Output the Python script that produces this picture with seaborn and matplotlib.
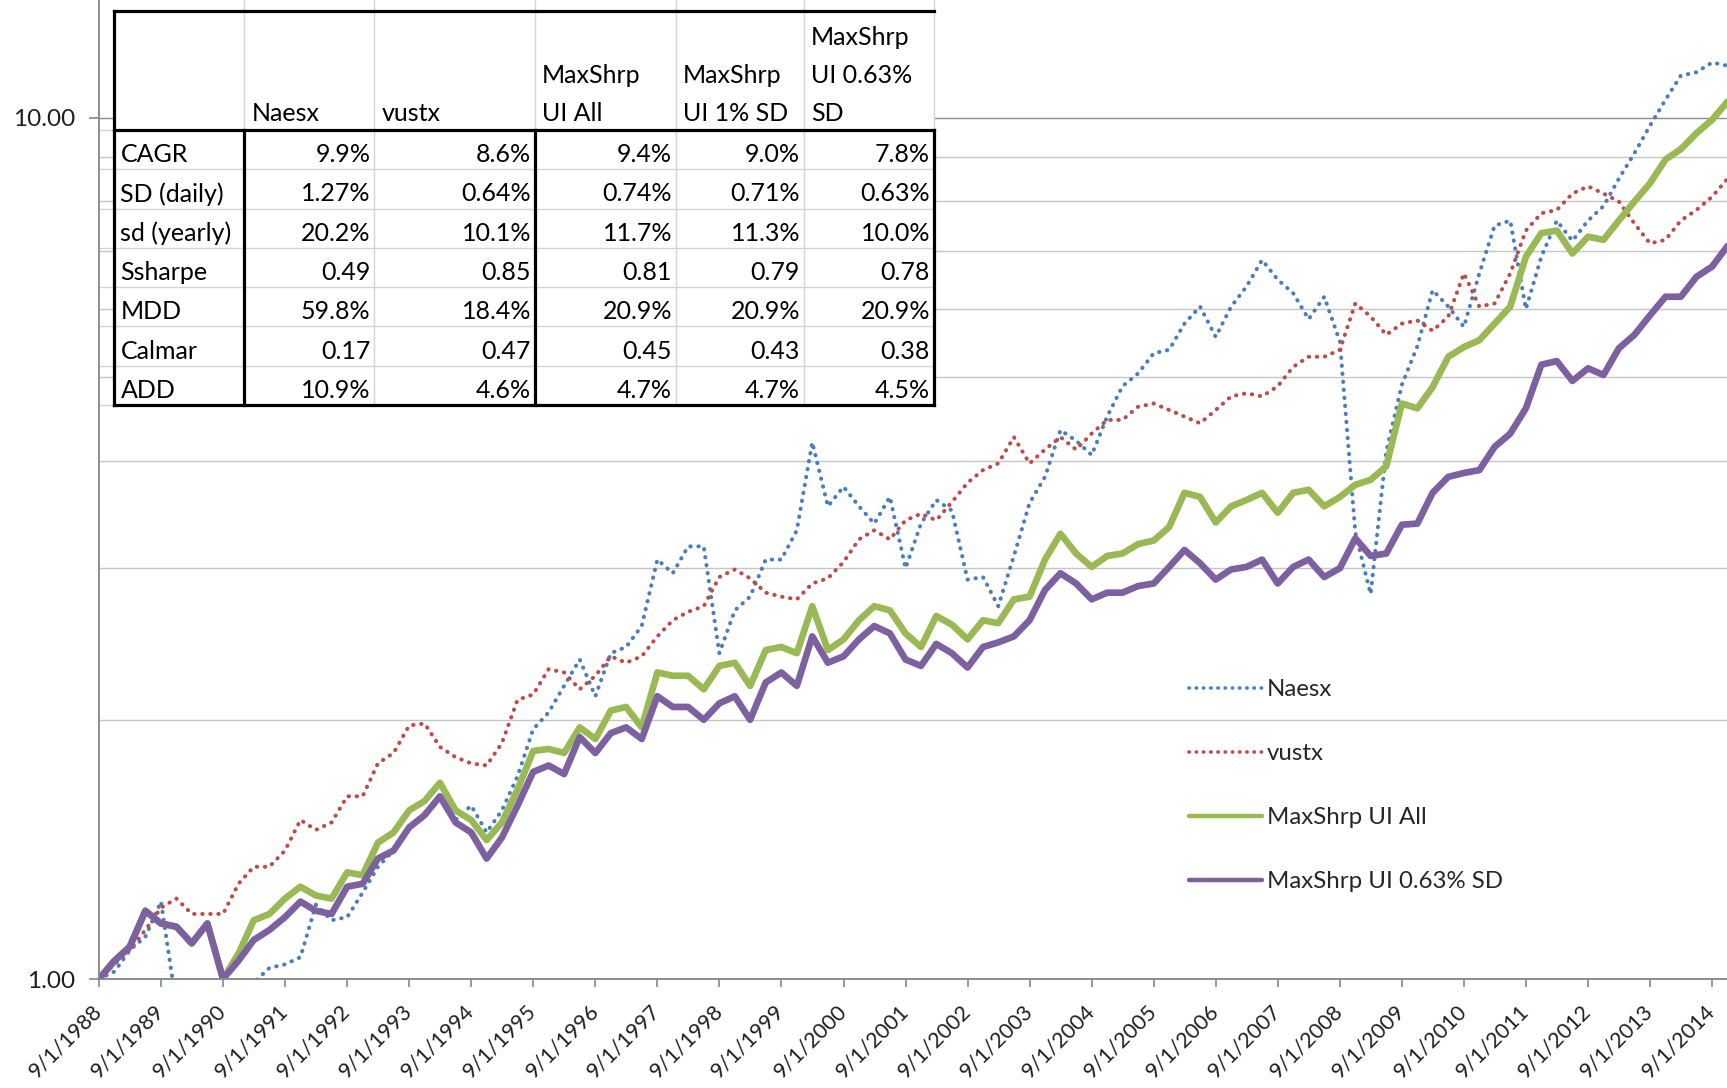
import numpy as np
import pandas as pd
import matplotlib.pyplot as plt
import matplotlib.transforms as mtransforms
import seaborn as sns
from matplotlib.lines import Line2D
from matplotlib.patches import Rectangle
from matplotlib.ticker import LogLocator, NullFormatter

W, H = 1727, 1088

# quarterly readings, starting 9/1/1988
dates = pd.date_range("1988-09-01", "2014-12-01", freq="3MS")

naesx = [1.00, 1.02, 1.08, 1.12, 1.23, 0.93, 0.92, 0.94, 0.80, 0.85,
         0.99, 1.03, 1.04, 1.06, 1.22, 1.17, 1.18, 1.26, 1.35, 1.41,
         1.50, 1.56, 1.62, 1.53, 1.59, 1.48, 1.57, 1.72, 1.95, 2.04,
         2.19, 2.35, 2.13, 2.39, 2.43, 2.57, 3.07, 2.96, 3.18, 3.18,
         2.39, 2.68, 2.78, 3.07, 3.07, 3.32, 4.20, 3.54, 3.73, 3.54,
         3.38, 3.63, 3.00, 3.38, 3.60, 3.50, 2.91, 2.93, 2.71, 3.10,
         3.57, 3.83, 4.34, 4.22, 4.06, 4.50, 4.88, 5.05, 5.33, 5.38,
         5.77, 6.04, 5.57, 6.04, 6.37, 6.84, 6.49, 6.26, 5.84, 6.20,
         5.50, 3.30, 2.80, 4.10, 4.90, 5.43, 6.31, 6.04, 5.72, 6.60,
         7.50, 7.60, 6.00, 6.90, 7.60, 7.20, 7.60, 7.90, 8.50, 9.10,
         9.80, 10.5, 11.2, 11.3, 11.6, 11.5]

vustx = [1.00, 1.04, 1.08, 1.14, 1.21, 1.24, 1.19, 1.19, 1.19, 1.29,
         1.35, 1.35, 1.41, 1.53, 1.49, 1.52, 1.63, 1.63, 1.78, 1.83,
         1.97, 1.98, 1.86, 1.81, 1.78, 1.77, 1.88, 2.11, 2.14, 2.29,
         2.27, 2.17, 2.25, 2.37, 2.33, 2.37, 2.50, 2.61, 2.67, 2.71,
         2.93, 2.99, 2.92, 2.81, 2.78, 2.76, 2.88, 2.92, 3.05, 3.24,
         3.32, 3.24, 3.41, 3.47, 3.41, 3.58, 3.77, 3.90, 3.97, 4.26,
         3.97, 4.12, 4.26, 4.12, 4.30, 4.46, 4.46, 4.62, 4.66, 4.58,
         4.50, 4.42, 4.58, 4.75, 4.79, 4.75, 4.88, 5.14, 5.28, 5.28,
         5.38, 6.09, 5.88, 5.60, 5.77, 5.82, 5.66, 5.88, 6.60, 6.04,
         6.09, 6.60, 7.40, 7.75, 7.82, 8.17, 8.33, 8.17, 8.00, 7.54,
         7.15, 7.22, 7.60, 7.82, 8.10, 8.50]

ui_all = [1.00, 1.05, 1.09, 1.20, 1.16, 1.15, 1.10, 1.16, 1.00, 1.07,
          1.17, 1.19, 1.24, 1.28, 1.25, 1.24, 1.33, 1.32, 1.44, 1.48,
          1.57, 1.61, 1.69, 1.57, 1.53, 1.45, 1.52, 1.66, 1.84, 1.85,
          1.83, 1.96, 1.90, 2.05, 2.07, 1.96, 2.27, 2.25, 2.25, 2.17,
          2.31, 2.33, 2.19, 2.41, 2.43, 2.39, 2.71, 2.41, 2.48, 2.61,
          2.71, 2.68, 2.52, 2.43, 2.64, 2.58, 2.48, 2.61, 2.59, 2.76,
          2.78, 3.07, 3.29, 3.12, 3.01, 3.10, 3.12, 3.20, 3.23, 3.35,
          3.67, 3.63, 3.39, 3.54, 3.60, 3.67, 3.48, 3.67, 3.70, 3.54,
          3.63, 3.75, 3.80, 3.94, 4.66, 4.60, 4.87, 5.28, 5.42, 5.52,
          5.77, 6.04, 6.90, 7.35, 7.40, 6.96, 7.28, 7.22, 7.60, 8.00,
          8.40, 8.95, 9.20, 9.60, 9.95, 10.45]

ui_063 = [1.00, 1.05, 1.09, 1.20, 1.16, 1.15, 1.10, 1.16, 1.00, 1.05,
          1.11, 1.14, 1.18, 1.23, 1.20, 1.19, 1.28, 1.29, 1.38, 1.41,
          1.50, 1.55, 1.63, 1.52, 1.48, 1.38, 1.46, 1.59, 1.74, 1.77,
          1.73, 1.91, 1.83, 1.93, 1.96, 1.90, 2.13, 2.07, 2.07, 2.00,
          2.09, 2.13, 2.00, 2.21, 2.27, 2.19, 2.50, 2.33, 2.37, 2.48,
          2.57, 2.52, 2.35, 2.31, 2.45, 2.39, 2.30, 2.43, 2.46, 2.50,
          2.61, 2.83, 2.96, 2.88, 2.76, 2.81, 2.81, 2.86, 2.88, 3.01,
          3.15, 3.04, 2.91, 2.99, 3.01, 3.07, 2.88, 3.01, 3.07, 2.93,
          3.00, 3.25, 3.10, 3.12, 3.37, 3.38, 3.67, 3.83, 3.87, 3.90,
          4.15, 4.30, 4.60, 5.17, 5.22, 4.95, 5.12, 5.03, 5.40, 5.60,
          5.90, 6.20, 6.20, 6.54, 6.72, 7.10]

series_names = ["Naesx", "vustx", "MaxShrp UI All", "MaxShrp UI 0.63% SD"]
series_colors = ["#4A7EBB", "#BE4B48", "#98B954", "#7D60A0"]

tick_years = list(range(1988, 2015))
tick_labels = [f"9/1/{y}" for y in tick_years]

# stats table
table_headers = [["Naesx"], ["vustx"], ["MaxShrp", "UI All"],
                 ["MaxShrp", "UI 1% SD"], ["MaxShrp", "UI 0.63%", "SD"]]
table_rows = ["CAGR", "SD (daily)", "sd (yearly)", "Ssharpe", "MDD", "Calmar", "ADD"]
table_vals = [
    ["9.9%", "8.6%", "9.4%", "9.0%", "7.8%"],
    ["1.27%", "0.64%", "0.74%", "0.71%", "0.63%"],
    ["20.2%", "10.1%", "11.7%", "11.3%", "10.0%"],
    ["0.49", "0.85", "0.81", "0.79", "0.78"],
    ["59.8%", "18.4%", "20.9%", "20.9%", "20.9%"],
    ["0.17", "0.47", "0.45", "0.43", "0.38"],
    ["10.9%", "4.6%", "4.7%", "4.7%", "4.5%"],
]

sns.set_style("white")
plt.rcParams["font.family"] = ["Lato", "DejaVu Sans"]

fig = plt.figure(figsize=(W / 100, H / 100), dpi=100)
ax = fig.add_axes([99 / W, 1 - 979 / H, (W - 99) / W, 979 / H])
ax.set_yscale("log")

dot = dict(lw=2.9, ls=(0, (0.1, 1.9)), dash_capstyle="round")
solid = dict(lw=4.8, ls="-", solid_joinstyle="round")
styles = [dot, dot, solid, solid]

for vals, color, st in zip([naesx, vustx, ui_all, ui_063], series_colors, styles):
    sns.lineplot(x=dates, y=vals, ax=ax, color=color, sort=False, **st)

ax.set_ylim(1, 10 ** (979 / 861))
ax.set_xlim(pd.Timestamp("1988-09-01"), pd.Timestamp("2014-11-28"))

ax.set_yticks([1, 10])
ax.set_yticklabels(["1.00", "10.00"])
ax.yaxis.set_minor_locator(LogLocator(base=10, subs=np.arange(2, 10)))
ax.yaxis.set_minor_formatter(NullFormatter())
ax.set_axisbelow(True)
ax.yaxis.grid(True, which="minor", color="#C6C6C6", lw=1.0)
ax.yaxis.grid(True, which="major", color="#8C8C8C", lw=1.0)
ax.xaxis.grid(False)
ax.set_xlabel("")
ax.set_ylabel("")

ax.set_xticks([pd.Timestamp(f"{y}-09-01") for y in tick_years])
ax.set_xticklabels(tick_labels)
ax.tick_params(axis="y", which="major", length=7.2, width=1.2, color="#868686",
               pad=10, labelsize=17.5, labelcolor="#1F1F1F", left=True)
ax.tick_params(axis="y", which="minor", length=0)
ax.tick_params(axis="x", length=6, width=1.2, color="#868686", pad=15,
               labelsize=15.5, labelcolor="#1F1F1F", bottom=True)
shift = mtransforms.ScaledTranslation(0, 0, fig.dpi_scale_trans)
for lab in ax.get_xticklabels():
    lab.set_rotation(45)
    lab.set_ha("right")
    lab.set_va("center")
    lab.set_rotation_mode("anchor")
    lab.set_transform(lab.get_transform() + shift)

for side in ["top", "right"]:
    ax.spines[side].set_visible(False)
for side in ["left", "bottom"]:
    ax.spines[side].set_color("#868686")
    ax.spines[side].set_linewidth(1.3)

handles = [Line2D([], [], color=c, **st) for c, st in zip(series_colors, styles)]
handles[0].set_linewidth(2.6)
handles[1].set_linewidth(2.6)
handles[2].set_linewidth(3.2)
handles[3].set_linewidth(3.2)
ax.legend(handles, series_names, loc="upper left",
          bbox_to_anchor=(1189 / W, 1 - (688 - 9) / H), bbox_transform=fig.transFigure,
          frameon=False, fontsize=17.3, handlelength=3.05, handletextpad=0.2,
          labelspacing=1.79, borderpad=0, borderaxespad=0)

# table drawn in pixel coordinates on an overlay
ov = fig.add_axes([0, 0, 1, 1], zorder=5)
ov.set_xlim(0, W)
ov.set_ylim(H, 0)
ov.axis("off")
ov.patch.set_alpha(0)

col_x = [114.5, 244.5, 374.5, 535, 676, 804, 934]
top, head_bot, bot = 11, 130, 405
row_h = (bot - head_bot) / len(table_rows)
row_y = [head_bot + row_h * i for i in range(len(table_rows) + 1)]
fs = 18
grey = "#D4D4D4"

ov.add_patch(Rectangle((col_x[0], top), col_x[-1] - col_x[0], bot - top,
                       facecolor="white", edgecolor="none"))
for x in col_x[1:]:
    ov.plot([x, x], [0, top], color=grey, lw=1)
for x in col_x[1:-1]:
    ov.plot([x, x], [top, head_bot], color=grey, lw=1)
ov.plot([col_x[-1]] * 2, [top, head_bot], color=grey, lw=1)
for x in [col_x[2], col_x[4], col_x[5]]:
    ov.plot([x, x], [head_bot, bot], color=grey, lw=1)
for y in row_y[1:-1]:
    ov.plot([col_x[0], col_x[-1]], [y, y], color=grey, lw=1)
for y in row_y:
    ov.plot([100, col_x[0]], [y, y], color=grey, lw=1)

thick = dict(color="black", lw=2.3, solid_capstyle="projecting")
ov.plot([col_x[0], col_x[-1]], [top, top], **thick)
ov.plot([col_x[0], col_x[-1]], [head_bot, head_bot], **thick)
ov.plot([col_x[0], col_x[-1]], [bot, bot], **thick)
ov.plot([col_x[0], col_x[0]], [top, bot], **thick)
for x in [col_x[1], col_x[3], col_x[6]]:
    ov.plot([x, x], [head_bot, bot], **thick)

for j, lines in enumerate(table_headers):
    for k, line in enumerate(reversed(lines)):
        ov.text(col_x[j + 1] + 7, 121 - 38 * k, line, ha="left", va="baseline",
                fontsize=fs, color="black")

for i, (lab, vals) in enumerate(zip(table_rows, table_vals)):
    yc = row_y[i] + row_h / 2 + 5
    t = ov.text(col_x[0] + 6, yc, lab, ha="left", va="center", fontsize=fs, color="black")
    clip = Rectangle((col_x[0], row_y[i]), col_x[1] - col_x[0] - 1, row_h, transform=ov.transData)
    t.set_clip_path(clip)
    for j, v in enumerate(vals):
        ov.text(col_x[j + 2] - 4, yc, v, ha="right", va="center", fontsize=fs, color="black")

fig.savefig("out.png", dpi=100)
